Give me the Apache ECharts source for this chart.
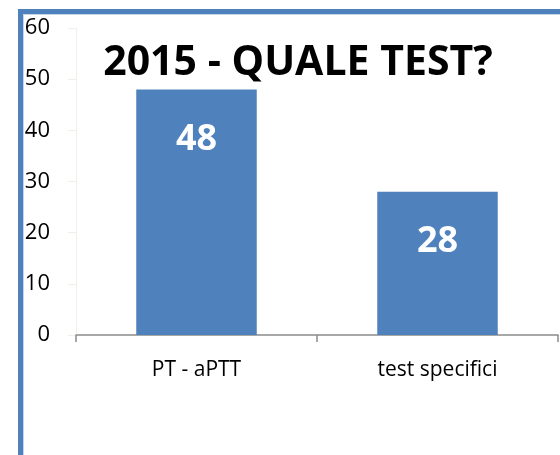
<!DOCTYPE html>
<html>
<head>
<meta charset="utf-8">
<script src="https://cdn.jsdelivr.net/npm/echarts@6/dist/echarts.min.js"></script>
<style>
  html, body { margin: 0; padding: 0; background: #fff; }
  #chart { width: 560px; height: 455px; }
</style>
</head>
<body>
<div id="chart"></div>
<script>
var categories = ['PT - aPTT', 'test specifici'];
var values = [48, 28];
var titleText = '2015 - QUALE TEST?';

var blue = '#4f81bd';
var chart = echarts.init(document.getElementById('chart'));

var option = {
  animation: false,
  title: {
    text: titleText,
    left: 293,
    top: 38,
    textAlign: 'center',
    textStyle: { fontFamily: 'Open Sans', fontWeight: 'bold', fontSize: 41, color: '#000' }
  },
  grid: { left: 76, right: 2, top: 28, bottom: 120, containLabel: false },
  // cornice della slide
  graphic: [
    { type: 'rect', shape: { x: 18, y: 9, width: 5, height: 446 }, style: { fill: blue }, z: 100 },
    { type: 'rect', shape: { x: 18, y: 9, width: 542, height: 5 }, style: { fill: blue }, z: 100 },
    { type: 'rect', shape: { x: 23, y: 14, width: 1, height: 441 }, style: { fill: '#c6d6ea' }, z: 100 },
    { type: 'rect', shape: { x: 23, y: 14, width: 537, height: 1 }, style: { fill: '#c6d6ea' }, z: 100 }
  ],
  xAxis: {
    type: 'category',
    data: categories,
    axisLine: { lineStyle: { color: '#8c8c8c', width: 1.5 } },
    axisTick: { show: true, length: 7, alignWithLabel: false, lineStyle: { color: '#8c8c8c', width: 1.5 } },
    axisLabel: { fontFamily: 'Open Sans', fontSize: 21, color: '#000', margin: 25 }
  },
  yAxis: {
    type: 'value',
    min: 0,
    max: 60,
    interval: 10,
    splitLine: { show: false },
    axisLine: { show: true, lineStyle: { color: '#f0f0ea' } },
    axisTick: { show: true, length: 8, lineStyle: { color: '#f0f0ea' } },
    axisLabel: { fontFamily: 'Open Sans', fontSize: 22, color: '#000', margin: 26 }
  },
  series: [{
    type: 'bar',
    data: values,
    barWidth: '50%',
    itemStyle: { color: blue },
    label: {
      show: true,
      position: 'insideTop',
      distance: 32,
      color: '#fff',
      fontFamily: 'Open Sans',
      fontWeight: 'bold',
      fontSize: 36
    }
  }]
};
chart.setOption(option);
</script>
</body>
</html>
